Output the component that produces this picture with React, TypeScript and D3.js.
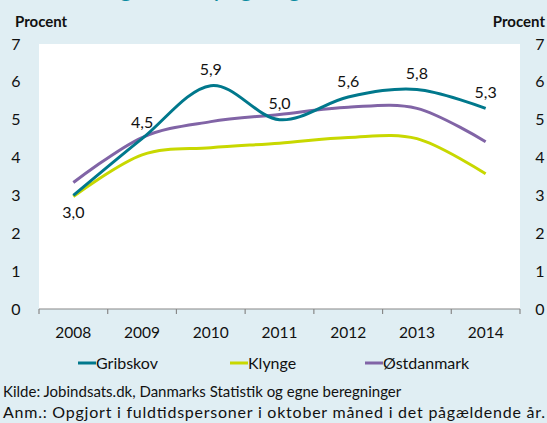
import React, { useEffect, useRef } from 'react';
import * as d3 from 'd3';

const years = ['2008', '2009', '2010', '2011', '2012', '2013', '2014'];
const gribskov = [3.0, 4.5, 5.9, 5.0, 5.6, 5.8, 5.3];
const klynge = [2.97, 4.07, 4.26, 4.38, 4.53, 4.5, 3.57];
const oestdanmark = [3.34, 4.53, 4.95, 5.14, 5.33, 5.3, 4.42];
const yTicks = [0, 1, 2, 3, 4, 5, 6, 7];

const seriesNames = ['Gribskov', 'Klynge', 'Østdanmark'];
const seriesColors = ['#00788c', '#c8d800', '#8164a6'];

const W = 547;
const H = 423;
const FONT = 'Lato, "Open Sans", sans-serif';

const App = () => {
  const ref = useRef<SVGSVGElement>(null);

  useEffect(() => {
    const svg = d3.select(ref.current);
    svg.selectAll('*').remove();

    const margin = { top: 44, right: 27, bottom: 114, left: 39 };
    const x = d3.scaleBand()
      .domain(years)
      .range([margin.left, W - margin.right]);
    const y = d3.scaleLinear()
      .domain([0, 7])
      .range([H - margin.bottom, margin.top]);
    const cx = (d: string) => (x(d) as number) + x.bandwidth() / 2;

    svg.append('rect')
      .attr('width', W)
      .attr('height', H)
      .attr('fill', '#e0eef3');

    // title, mostly cut off at the top edge
    svg.append('text')
      .attr('x', 6)
      .attr('y', -4)
      .attr('fill', '#0a8ba0')
      .attr('font-family', FONT)
      .attr('font-size', 26)
      .text('Bruttoledighed, Klynge og Østdanmark');

    svg.append('rect')
      .attr('x', margin.left)
      .attr('y', margin.top)
      .attr('width', W - margin.left - margin.right)
      .attr('height', H - margin.bottom - margin.top)
      .attr('fill', '#ffffff');

    // y axis labels, both sides
    const yl = svg.append('g')
      .attr('font-family', FONT)
      .attr('font-size', 16)
      .attr('fill', '#111');
    yl.selectAll('text.l')
      .data(yTicks)
      .join('text')
      .attr('class', 'l')
      .attr('x', 16)
      .attr('y', d => y(d))
      .attr('dy', '0.35em')
      .attr('text-anchor', 'middle')
      .text(d => d);
    yl.selectAll('text.r')
      .data(yTicks)
      .join('text')
      .attr('class', 'r')
      .attr('x', 540)
      .attr('y', d => y(d))
      .attr('dy', '0.35em')
      .attr('text-anchor', 'middle')
      .text(d => d);

    svg.append('text')
      .attr('x', 15)
      .attr('y', 27)
      .attr('font-family', FONT)
      .attr('font-size', 15)
      .attr('font-weight', 'bold')
      .attr('fill', '#111')
      .text('Procent');
    svg.append('text')
      .attr('x', 545)
      .attr('y', 27)
      .attr('text-anchor', 'end')
      .attr('font-family', FONT)
      .attr('font-size', 15)
      .attr('font-weight', 'bold')
      .attr('fill', '#111')
      .text('Procent');

    // x axis
    const xAxis = svg.append('g')
      .attr('transform', `translate(0,${y(0)})`);
    xAxis.append('line')
      .attr('x1', margin.left)
      .attr('x2', W - margin.right)
      .attr('stroke', '#888')
      .attr('stroke-width', 1.2);
    const edges = years.map(d => x(d) as number).concat([W - margin.right]);
    xAxis.selectAll('line.tick')
      .data(edges)
      .join('line')
      .attr('class', 'tick')
      .attr('x1', d => d)
      .attr('x2', d => d)
      .attr('y1', 0)
      .attr('y2', 5)
      .attr('stroke', '#888')
      .attr('stroke-width', 1.2);
    xAxis.selectAll('text')
      .data(years)
      .join('text')
      .attr('x', d => cx(d))
      .attr('y', 24)
      .attr('dy', '0.35em')
      .attr('text-anchor', 'middle')
      .attr('font-family', FONT)
      .attr('font-size', 15.5)
      .attr('fill', '#111')
      .text(d => d);

    // lines
    const line = d3.line<number>()
      .x((_, i) => cx(years[i]))
      .y(d => y(d))
      .curve(d3.curveCardinal.tension(0));

    const allSeries = [gribskov, klynge, oestdanmark];
    [klynge, oestdanmark, gribskov].forEach(s => {
      const idx = allSeries.indexOf(s);
      svg.append('path')
        .datum(s)
        .attr('fill', 'none')
        .attr('stroke', seriesColors[idx])
        .attr('stroke-width', 3)
        .attr('d', line);
    });

    // data labels for Gribskov
    svg.append('g')
      .selectAll('text')
      .data(gribskov)
      .join('text')
      .attr('x', (_, i) => cx(years[i]))
      .attr('y', (d, i) => i === 0 ? y(d) + 17 : y(d) - 16)
      .attr('dy', '0.35em')
      .attr('text-anchor', 'middle')
      .attr('font-family', FONT)
      .attr('font-size', 16)
      .attr('fill', '#111')
      .text(d => d3.format('.1f')(d).replace('.', ','));

    // legend
    const legendX = [78, 230, 365];
    const lg = svg.append('g').attr('transform', 'translate(0,363)');
    seriesNames.forEach((name, i) => {
      lg.append('line')
        .attr('x1', legendX[i])
        .attr('x2', legendX[i] + 18)
        .attr('stroke', seriesColors[i])
        .attr('stroke-width', 3);
      lg.append('text')
        .attr('x', legendX[i] + 18)
        .attr('dy', '0.35em')
        .attr('font-family', FONT)
        .attr('font-size', 16)
        .attr('fill', '#111')
        .text(name);
    });

    svg.append('text')
      .attr('x', 3)
      .attr('y', 397)
      .attr('font-family', FONT)
      .attr('font-size', 15)
      .attr('fill', '#111')
      .text('Kilde: Jobindsats.dk, Danmarks Statistik og egne beregninger');
    svg.append('text')
      .attr('x', 3)
      .attr('y', 418)
      .attr('font-family', FONT)
      .attr('font-size', 16)
      .attr('textLength', 542)
      .attr('lengthAdjust', 'spacing')
      .attr('fill', '#111')
      .text('Anm.: Opgjort i fuldtidspersoner i oktober måned i det pågældende år.');
  }, []);

  return (
    <svg
      ref={ref}
      width={W}
      height={H}
      style={{ position: 'absolute', left: 0, top: 0, display: 'block' }}
    />
  );
};

export default App;
